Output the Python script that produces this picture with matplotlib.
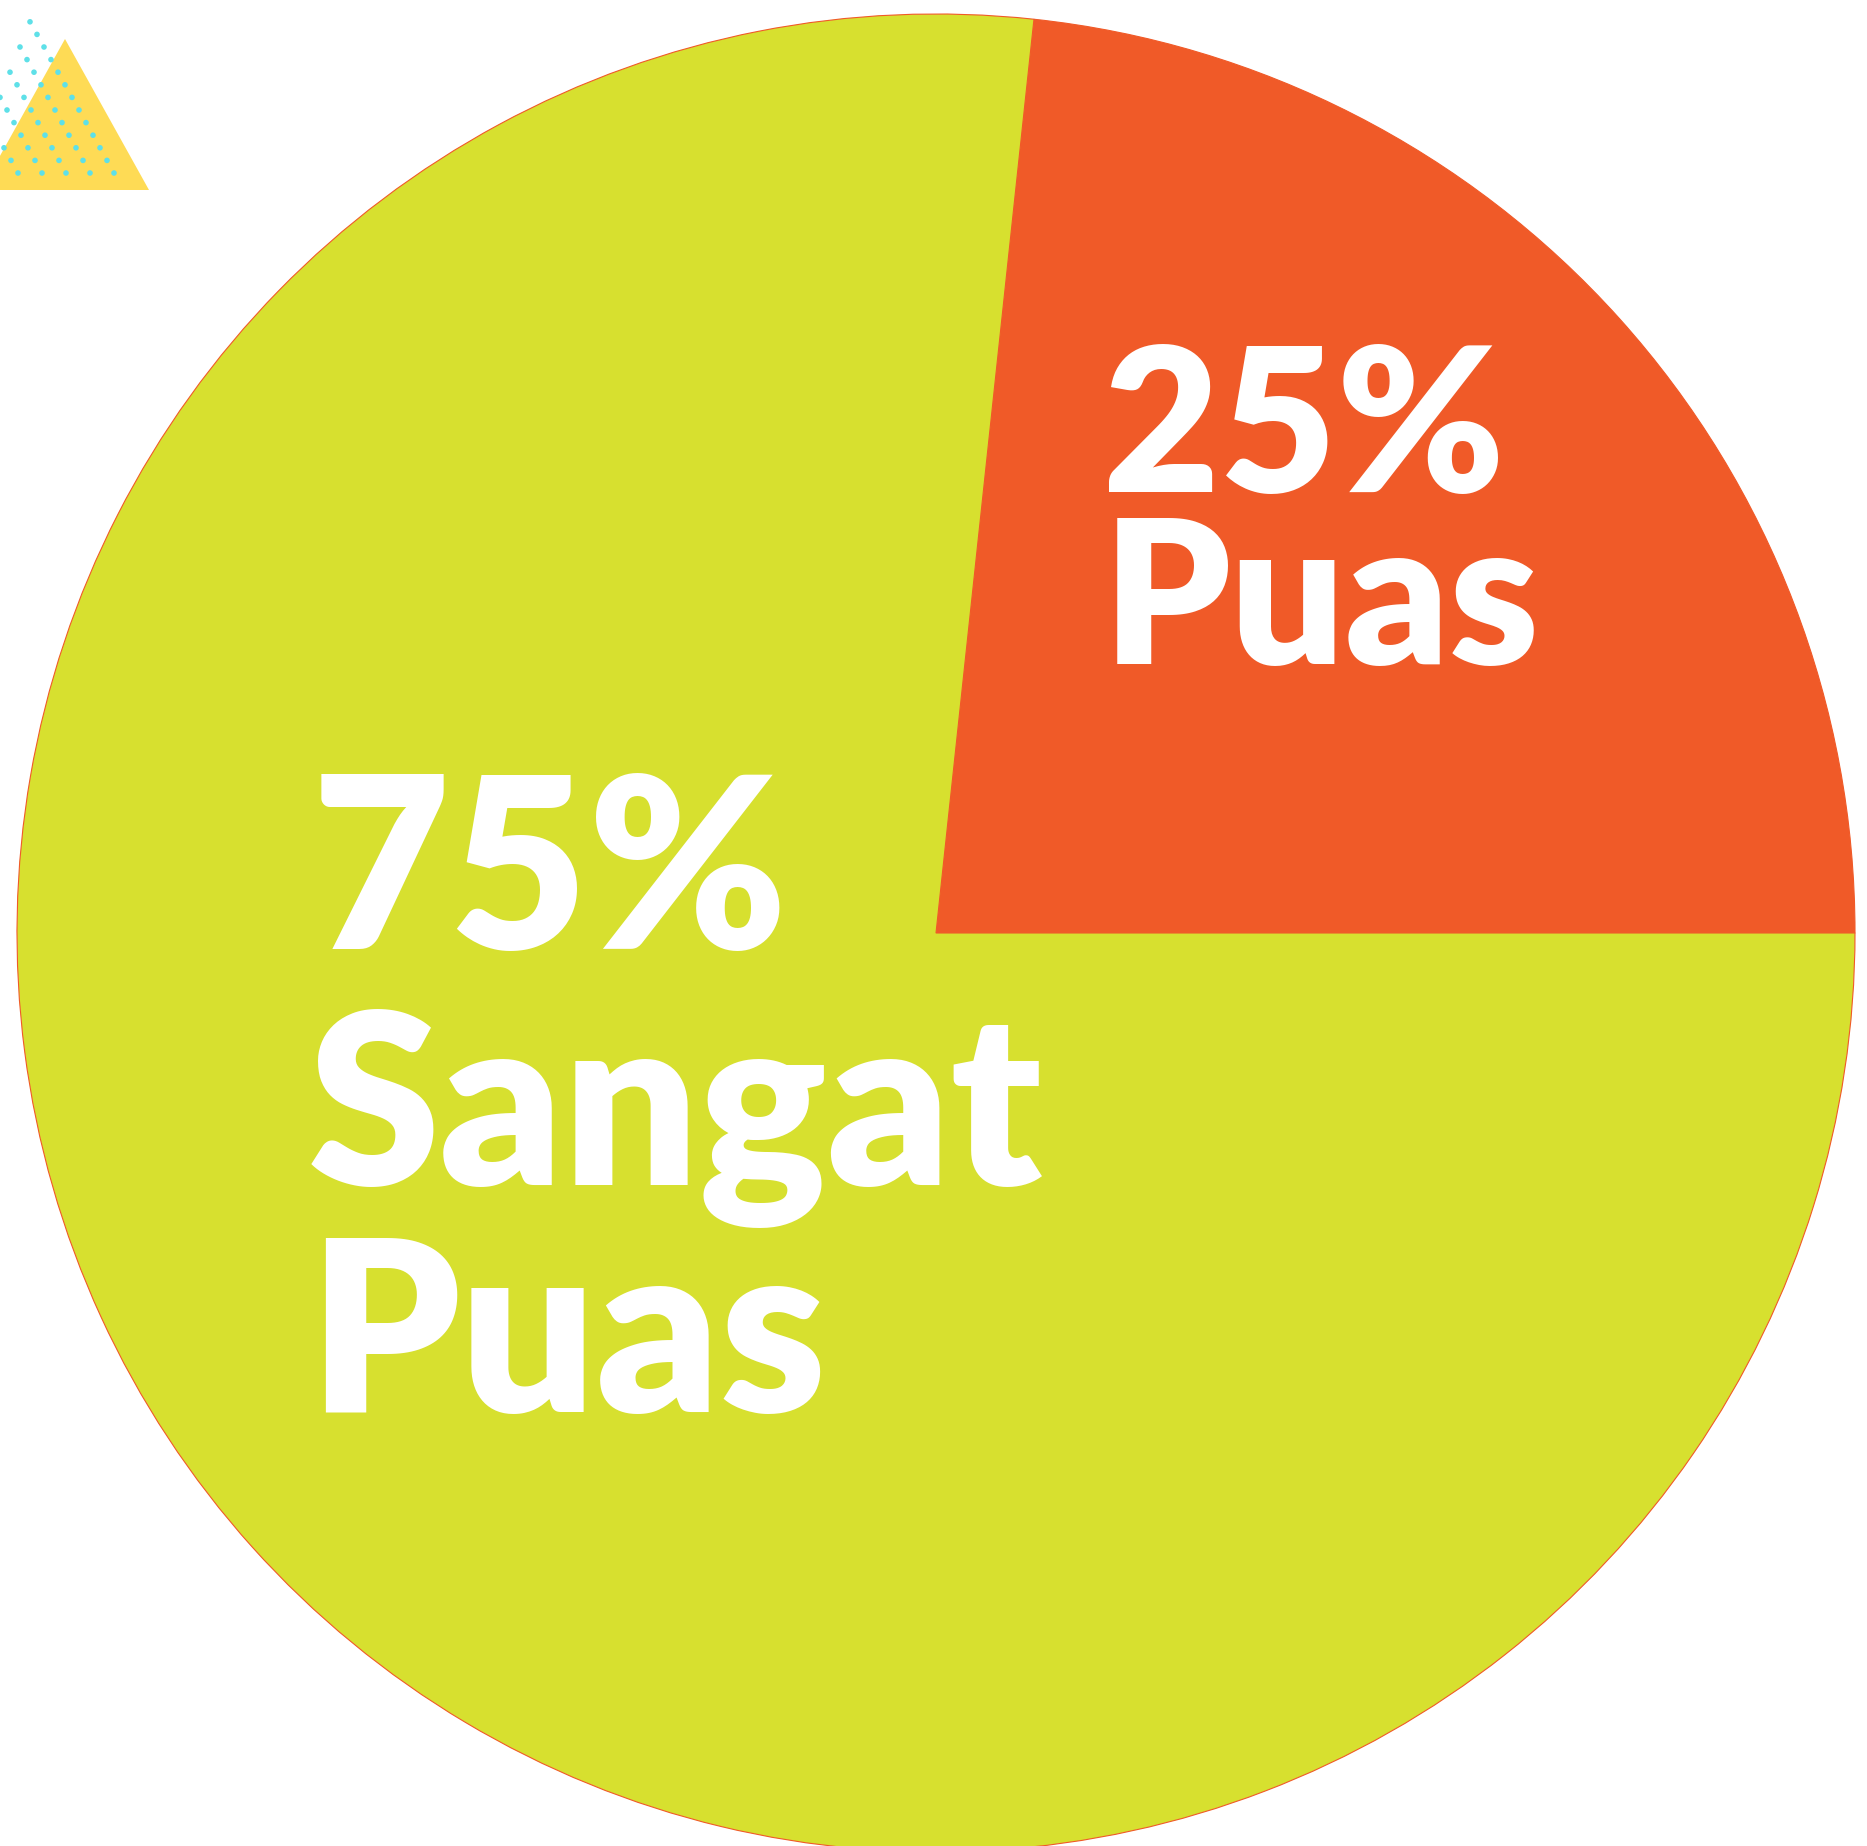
import matplotlib
matplotlib.use('Agg')
import matplotlib.pyplot as plt
from matplotlib.patches import Polygon, Circle

# slice data (orange slice spans about 84 degrees)
categories = ['Puas', 'Sangat Puas']
pct_labels = ['25%', '75%']
shares = [23.3, 76.7]
colors = ['#F05A28', '#D7E02F']

W, H = 1867, 1846
fig = plt.figure(figsize=(W / 100, H / 100), dpi=100)
ax = fig.add_axes([0, 0, 1, 1])

cx, cy, r = 936, 933, 919
ax.pie(shares, colors=colors, startangle=0, counterclock=False,
       center=(cx, cy), radius=r,
       wedgeprops=dict(edgecolor='#F05A28', linewidth=0.8))

# labels (pixel coords, y downwards)
font = dict(family='Lato', weight='heavy', color='white', ha='left', va='baseline')
ax.text(1103, 492, pct_labels[0], fontsize=145, **font)
ax.text(1103, 664, categories[0], fontsize=145, **font)
ax.text(312, 949, pct_labels[1], fontsize=172, **font)
for i, word in enumerate(categories[1].split()):
    ax.text(308, 1185 + i * 227, word, fontsize=172, **font)

# decoration top left: yellow triangle with cyan dots
ax.add_patch(Polygon([(-19, 190), (65, 39), (149, 190)], closed=True,
                     facecolor='#FEDB55', edgecolor='none'))
for k in range(13):
    y = 173 - 12.6 * k
    x_right = 114 - 7.0 * k
    x_left = -61 + 7.56 * k
    x = x_right
    while x >= x_left - 4:
        ax.add_patch(Circle((x, y), 2.8, facecolor='#5EE0E8', edgecolor='none'))
        x -= 24

ax.set_xlim(0, W)
ax.set_ylim(H, 0)
ax.set_aspect('auto')
ax.axis('off')

fig.savefig('out.png', dpi=100, facecolor='white')
